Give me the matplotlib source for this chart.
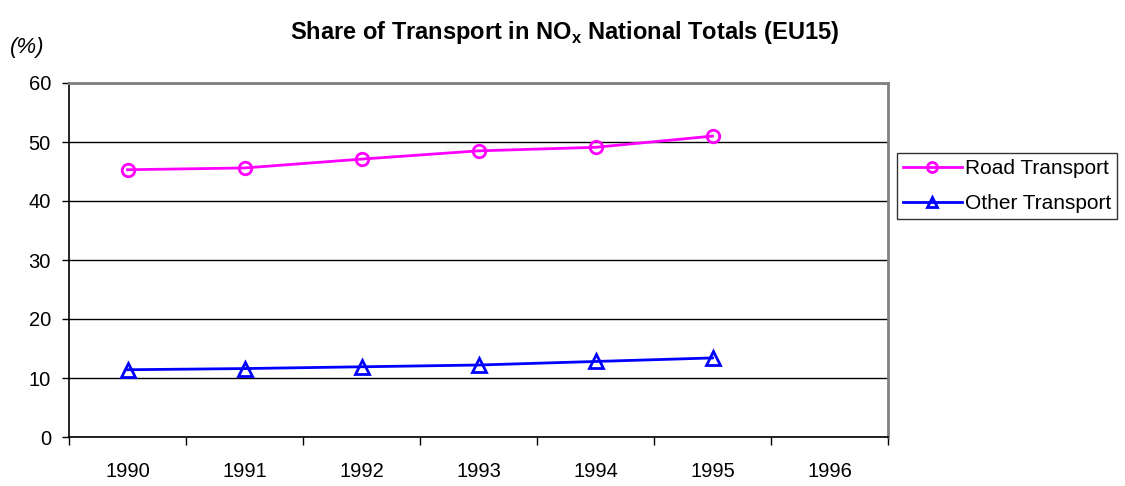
import matplotlib.pyplot as plt
import numpy as np

years = ['1990', '1991', '1992', '1993', '1994', '1995', '1996']
road = [45.3, 45.6, 47.1, 48.5, 49.1, 51.0]
other = [11.4, 11.6, 11.9, 12.2, 12.8, 13.4]

plt.rcParams['font.family'] = ['Liberation Sans', 'DejaVu Sans']

fig = plt.figure(figsize=(11.25, 4.86), dpi=100)
ax = fig.add_axes([69 / 1125, 49 / 486, 819 / 1125, 354 / 486])

x = np.arange(len(road))
ax.plot(x, road, color='#ff00ff', lw=2, marker='o', ms=9, mfc='none',
        mec='#ff00ff', mew=2, label='Road Transport')
ax.plot(x, other, color='#0000ff', lw=2, marker='^', ms=9.5, mfc='none',
        mec='#0000ff', mew=2, label='Other Transport')

ax.set_xlim(-0.5, len(years) - 0.5)
ax.set_ylim(0, 60)
ax.set_yticks(range(0, 61, 10))
ax.set_xticks(np.arange(-0.5, len(years), 1.0))
ax.set_xticklabels([])
ax.set_xticks(np.arange(len(years)), minor=True)
ax.set_xticklabels(years, minor=True)
ax.tick_params(axis='x', which='minor', length=0, pad=18, labelsize=14.5)
ax.tick_params(axis='x', which='major', length=6, width=1, direction='out')
ax.tick_params(axis='y', length=5, width=1, direction='out', labelsize=14.5, pad=8)

ax.grid(axis='y', color='black', lw=1)
ax.set_axisbelow(True)
for s in ['left', 'bottom']:
    ax.spines[s].set_color('black')
    ax.spines[s].set_linewidth(1.2)
for s in ['top', 'right']:
    ax.spines[s].set_color('#808080')
    ax.spines[s].set_linewidth(2)

fig.text(0.502, 1 - 32 / 486, 'Share of Transport in NO$_\\mathregular{x}$ National Totals (EU15)',
         ha='center', va='center', fontsize=17, fontweight='bold')
fig.text(10 / 1125, 1 - 47 / 486, '(%)', ha='left', va='center', fontsize=16, style='italic')

leg = fig.legend(loc='upper left', bbox_to_anchor=(897 / 1125, 1 - 153 / 486),
                 frameon=True, fancybox=False, edgecolor='black', fontsize=15,
                 handlelength=2.8, handletextpad=0.15, borderpad=0.3, borderaxespad=0,
                 labelspacing=0.75, markerscale=0.8)
leg.get_frame().set_linewidth(1)

fig.savefig('out.png', dpi=100)
